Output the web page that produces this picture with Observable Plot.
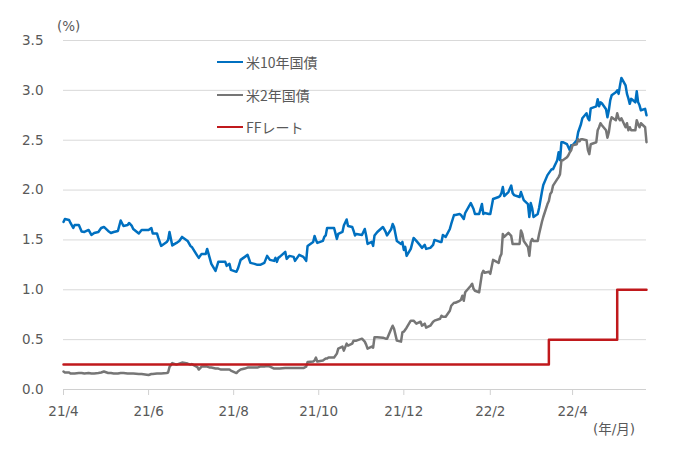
<!DOCTYPE html>
<html><head><meta charset="utf-8">
<script src="https://cdn.jsdelivr.net/npm/d3@7"></script>
<script src="https://cdn.jsdelivr.net/npm/@observablehq/plot@0.6"></script>
<style>
body{margin:0;background:#fff;}
#wrap{position:relative;width:681px;height:454px;font-family:"DejaVu Sans","Noto Sans CJK JP",sans-serif;color:#595959;}
.lab{position:absolute;font-size:13.5px;white-space:nowrap;line-height:1;}
.leg{position:absolute;left:217px;height:20px;font-size:14px;color:#595959;display:flex;align-items:center;white-space:nowrap;font-family:"Noto Sans CJK JP","DejaVu Sans",sans-serif;}
.leg i{display:inline-block;width:26px;height:2.5px;margin-right:3px;}
</style></head><body><div id="wrap"></div>
<script>
const dates = [
"2021-04-01","2021-04-02","2021-04-05","2021-04-06","2021-04-08","2021-04-09","2021-04-12","2021-04-14","2021-04-16","2021-04-19",
"2021-04-21","2021-04-23","2021-04-26","2021-04-28","2021-04-30","2021-05-03","2021-05-05","2021-05-07","2021-05-10","2021-05-12",
"2021-05-14","2021-05-17","2021-05-18","2021-05-20","2021-05-21","2021-05-25","2021-05-27","2021-06-01","2021-06-03","2021-06-04",
"2021-06-07","2021-06-08","2021-06-10","2021-06-14","2021-06-15","2021-06-16","2021-06-18","2021-06-21","2021-06-23","2021-06-25",
"2021-06-29","2021-07-01","2021-07-02","2021-07-06","2021-07-07","2021-07-09","2021-07-12","2021-07-13","2021-07-15","2021-07-16",
"2021-07-19","2021-07-21","2021-07-23","2021-07-26","2021-07-27","2021-07-29","2021-07-30","2021-08-03","2021-08-04","2021-08-06",
"2021-08-09","2021-08-11","2021-08-13","2021-08-16","2021-08-18","2021-08-20","2021-08-23","2021-08-25","2021-08-27","2021-08-30",
"2021-08-31","2021-09-01","2021-09-02","2021-09-03","2021-09-07","2021-09-08","2021-09-10","2021-09-13","2021-09-14","2021-09-17",
"2021-09-20","2021-09-22","2021-09-23","2021-09-27","2021-09-28","2021-09-29","2021-09-30","2021-10-04","2021-10-05","2021-10-06",
"2021-10-07","2021-10-08","2021-10-12","2021-10-14","2021-10-15","2021-10-18","2021-10-19","2021-10-21","2021-10-22","2021-10-25",
"2021-10-26","2021-10-27","2021-10-28","2021-11-01","2021-11-03","2021-11-04","2021-11-05","2021-11-08","2021-11-09","2021-11-10",
"2021-11-12","2021-11-16","2021-11-18","2021-11-19","2021-11-22","2021-11-23","2021-11-24","2021-11-26","2021-11-29","2021-11-30",
"2021-12-01","2021-12-02","2021-12-03","2021-12-06","2021-12-08","2021-12-10","2021-12-13","2021-12-14","2021-12-16","2021-12-17",
"2021-12-20","2021-12-22","2021-12-23","2021-12-27","2021-12-28","2021-12-29","2021-12-31","2022-01-03","2022-01-04","2022-01-06",
"2022-01-07","2022-01-10","2022-01-11","2022-01-12","2022-01-13","2022-01-14","2022-01-18","2022-01-19","2022-01-20","2022-01-21",
"2022-01-24","2022-01-26","2022-01-27","2022-01-28","2022-01-31","2022-02-01","2022-02-03","2022-02-07","2022-02-08","2022-02-09",
"2022-02-10","2022-02-11","2022-02-14","2022-02-16","2022-02-17","2022-02-18","2022-02-22","2022-02-23","2022-02-24","2022-02-25",
"2022-02-28","2022-03-01","2022-03-02","2022-03-03","2022-03-04","2022-03-07","2022-03-08","2022-03-10","2022-03-11","2022-03-14",
"2022-03-15","2022-03-16","2022-03-17","2022-03-18","2022-03-21","2022-03-22","2022-03-23","2022-03-24","2022-03-25","2022-03-28",
"2022-03-29","2022-03-30","2022-03-31","2022-04-01","2022-04-04","2022-04-05","2022-04-06","2022-04-07","2022-04-08","2022-04-11",
"2022-04-12","2022-04-13","2022-04-14","2022-04-18","2022-04-19","2022-04-20","2022-04-21","2022-04-22","2022-04-25","2022-04-26",
"2022-04-27","2022-04-28","2022-04-29","2022-05-02","2022-05-03","2022-05-04","2022-05-05","2022-05-06","2022-05-09","2022-05-10",
"2022-05-11","2022-05-12","2022-05-13","2022-05-16","2022-05-17","2022-05-18","2022-05-19","2022-05-20","2022-05-23","2022-05-24"
];
const us10y = [
1.68,1.71,1.70,1.67,1.62,1.65,1.65,1.585,1.58,1.60,
1.55,1.57,1.58,1.62,1.63,1.59,1.57,1.58,1.59,1.695,
1.64,1.65,1.67,1.64,1.61,1.565,1.60,1.60,1.62,1.565,
1.565,1.52,1.44,1.48,1.50,1.58,1.445,1.47,1.49,1.53,
1.49,1.44,1.43,1.34,1.32,1.36,1.36,1.41,1.31,1.26,
1.19,1.28,1.28,1.28,1.24,1.26,1.20,1.18,1.21,1.30,
1.33,1.35,1.27,1.26,1.25,1.25,1.27,1.34,1.30,1.29,
1.32,1.28,1.32,1.33,1.38,1.31,1.34,1.33,1.29,1.35,
1.33,1.29,1.44,1.48,1.54,1.50,1.47,1.49,1.53,1.545,
1.62,1.62,1.62,1.51,1.56,1.58,1.645,1.705,1.64,1.63,
1.59,1.545,1.56,1.55,1.61,1.545,1.46,1.48,1.44,1.545,
1.58,1.63,1.58,1.545,1.61,1.66,1.63,1.49,1.46,1.48,
1.40,1.43,1.34,1.41,1.52,1.49,1.44,1.42,1.45,1.41,
1.42,1.45,1.50,1.48,1.48,1.55,1.53,1.61,1.66,1.75,
1.75,1.76,1.75,1.73,1.71,1.77,1.87,1.84,1.81,1.76,
1.76,1.86,1.76,1.77,1.76,1.76,1.91,1.93,1.94,1.97,
2.03,1.94,1.98,2.045,1.97,1.95,1.93,1.98,1.94,1.90,
1.86,1.73,1.87,1.82,1.73,1.76,1.82,1.98,2.05,2.15,
2.17,2.19,2.21,2.21,2.30,2.38,2.30,2.48,2.48,2.46,
2.43,2.40,2.45,2.45,2.50,2.58,2.62,2.66,2.72,2.77,
2.72,2.70,2.82,2.84,2.91,2.84,2.88,2.87,2.81,2.73,
2.80,2.90,2.95,2.98,3.00,2.965,3.05,3.125,3.05,2.965,
2.92,2.865,2.915,2.88,2.99,2.88,2.85,2.80,2.815,2.75
];
const us2y = [
0.18,0.17,0.17,0.16,0.16,0.16,0.165,0.165,0.16,0.165,
0.16,0.16,0.165,0.17,0.18,0.165,0.165,0.16,0.16,0.165,
0.165,0.16,0.16,0.16,0.16,0.155,0.155,0.145,0.155,0.155,
0.16,0.16,0.16,0.165,0.17,0.225,0.265,0.25,0.26,0.27,
0.26,0.25,0.255,0.225,0.20,0.23,0.23,0.23,0.22,0.22,
0.21,0.21,0.20,0.20,0.20,0.20,0.19,0.165,0.18,0.20,
0.21,0.22,0.22,0.22,0.22,0.23,0.23,0.235,0.23,0.21,
0.21,0.21,0.21,0.21,0.215,0.215,0.215,0.215,0.215,0.215,
0.215,0.23,0.275,0.28,0.29,0.32,0.28,0.29,0.30,0.31,
0.31,0.32,0.32,0.36,0.41,0.43,0.39,0.46,0.44,0.46,
0.49,0.49,0.49,0.51,0.48,0.45,0.41,0.43,0.42,0.525,
0.525,0.52,0.51,0.51,0.61,0.64,0.61,0.49,0.48,0.575,
0.58,0.60,0.62,0.69,0.69,0.66,0.68,0.64,0.66,0.62,
0.64,0.68,0.69,0.71,0.74,0.73,0.73,0.79,0.84,0.87,
0.87,0.89,0.90,0.94,0.89,0.975,1.04,1.06,1.01,0.99,
0.975,1.16,1.19,1.17,1.18,1.16,1.30,1.27,1.33,1.36,
1.56,1.53,1.57,1.54,1.46,1.46,1.46,1.595,1.56,1.49,
1.43,1.34,1.48,1.51,1.49,1.49,1.56,1.68,1.73,1.86,
1.89,1.96,1.98,2.045,2.11,2.13,2.16,2.30,2.30,2.33,
2.35,2.38,2.40,2.45,2.46,2.51,2.49,2.51,2.51,2.50,
2.40,2.36,2.46,2.48,2.60,2.63,2.67,2.65,2.60,2.525,
2.58,2.68,2.73,2.70,2.77,2.72,2.70,2.72,2.63,2.67,
2.60,2.63,2.60,2.60,2.70,2.66,2.63,2.67,2.63,2.48
];
const ffDates = ["2021-04-01","2022-03-15","2022-05-03","2022-05-24"];
const ffRate = [0.25,0.5,1.0,1.0];
const seriesNames = ["米10年国債","米2年国債","FFレート"];
const seriesColors = ["#0070c0","#767676","#c0191c"];
const xTickDates = ["2021-04-01","2021-06-01","2021-08-01","2021-10-01","2021-12-01","2022-02-01","2022-04-01"];
const yTickValues = [0,0.5,1.0,1.5,2.0,2.5,3.0,3.5];
const yUnit = "(%)";
const xUnit = "(年/月)";

const parse = s => new Date(s + "T00:00:00Z");
const d10 = dates.map((d,i)=>({date:parse(d), value:us10y[i]}));
const d2 = dates.map((d,i)=>({date:parse(d), value:us2y[i]}));
const dff = ffDates.map((d,i)=>({date:parse(d), value:ffRate[i]}));
const xTicks = xTickDates.map(parse);
const fmtX = d => `${String(d.getUTCFullYear()).slice(2)}/${d.getUTCMonth()+1}`;

const chart = Plot.plot({
  width:681, height:454,
  marginLeft:63, marginRight:35, marginTop:40, marginBottom:65,
  style:{fontFamily:'"DejaVu Sans","Noto Sans CJK JP",sans-serif', fontSize:"13.5px", color:"#595959", background:"white"},
  x:{type:"utc", domain:[parse(dates[0]), parse(dates[dates.length-1])]},
  y:{domain:[0,3.5]},
  marks:[
    Plot.gridY(yTickValues,{stroke:"#d9d9d9", strokeOpacity:1, strokeWidth:1}),
    Plot.axisY(yTickValues,{tickSize:0, tickPadding:20, tickFormat:d=>d.toFixed(1), label:null}),
    Plot.ruleY([0],{stroke:"#d0d0d0", strokeWidth:1}),
    Plot.axisX(xTicks,{tickSize:6, tickPadding:11, tickFormat:fmtX, label:null, stroke:"#d0d0d0"}),
    Plot.line(d10,{x:"date", y:"value", stroke:seriesColors[0], strokeWidth:2.5}),
    Plot.line(d2,{x:"date", y:"value", stroke:seriesColors[1], strokeWidth:2.5}),
    Plot.line(dff,{x:"date", y:"value", stroke:seriesColors[2], strokeWidth:2.5, curve:"step-after"})
  ]
});
const wrap = document.getElementById("wrap");
wrap.appendChild(chart);

function addLabel(text, left, top){
  const el = document.createElement("div");
  el.className = "lab"; el.textContent = text;
  el.style.left = left + "px"; el.style.top = top + "px";
  wrap.appendChild(el);
}
addLabel(yUnit, 57, 20);
addLabel(xUnit, 593, 423);

const legTops = [52, 85, 117];
seriesNames.forEach((name,i)=>{
  const row = document.createElement("div");
  row.className = "leg";
  row.style.top = legTops[i] + "px";
  const sw = document.createElement("i");
  sw.style.background = seriesColors[i];
  row.appendChild(sw);
  row.appendChild(document.createTextNode(name));
  wrap.appendChild(row);
});
</script></body></html>
